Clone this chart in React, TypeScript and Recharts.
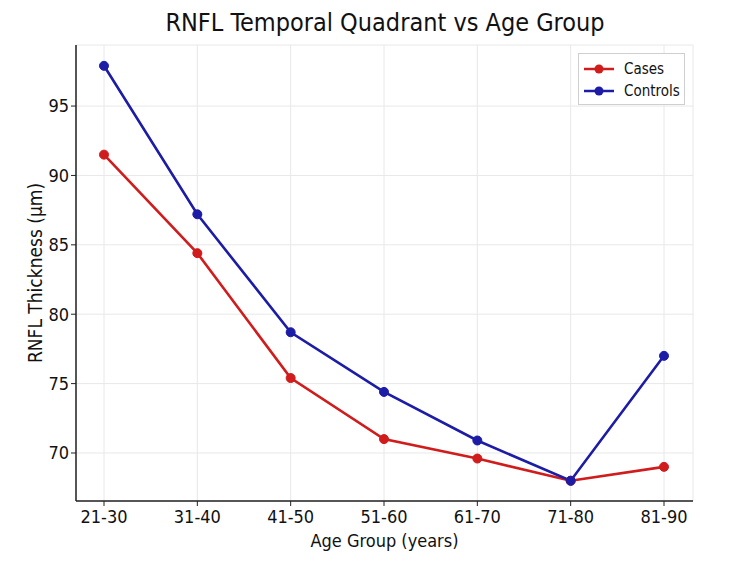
import React from 'react'
import { LineChart, Line, XAxis, YAxis, CartesianGrid } from 'recharts'

const ageGroups = ['21-30', '31-40', '41-50', '51-60', '61-70', '71-80', '81-90']
const cases = [91.5, 84.4, 75.4, 71.0, 69.6, 68.0, 69.0]
const controls = [97.9, 87.2, 78.7, 74.4, 70.9, 68.0, 77.0]
const yTicks = [70, 75, 80, 85, 90, 95]

const RED = '#d01c1c'
const BLUE = '#1c1ca6'
const FONT = '"DejaVu Sans Condensed", "DejaVu Sans", sans-serif'

const data = ageGroups.map((g, i) => ({ group: g, cases: cases[i], controls: controls[i] }))

const legendItems = [
  { label: 'Cases', color: RED },
  { label: 'Controls', color: BLUE },
]

function LegendBox() {
  return (
    <div style={{ position: 'absolute', left: 578, top: 53, width: 107, height: 52, boxSizing: 'border-box', border: '1px solid #cfcfcf', background: '#fff', padding: '4px 0 0 5px', fontFamily: FONT, fontSize: 15, color: '#111' }}>
      {legendItems.map(item => (
        <div key={item.label} style={{ display: 'flex', alignItems: 'center', height: 22 }}>
          <svg width={30} height={12} style={{ marginRight: 10 }}>
            <line x1={0} y1={6} x2={30} y2={6} stroke={item.color} strokeWidth={2.5} />
            <circle cx={15} cy={6} r={4.5} fill={item.color} />
          </svg>
          <span>{item.label}</span>
        </div>
      ))}
    </div>
  )
}

export default function App() {
  return (
    <div style={{ position: 'absolute', left: 0, top: 0, width: 750, height: 581, background: '#fff' }}>
      <div style={{ position: 'absolute', top: 8, left: 0, width: 770, textAlign: 'center', fontFamily: FONT, fontSize: 25, color: '#111' }}>
        RNFL Temporal Quadrant vs Age Group
      </div>
      <LineChart width={750} height={581} data={data} margin={{ top: 45, right: 57, left: 0, bottom: 0 }}>
        <CartesianGrid stroke="#e8e8e8" strokeWidth={1} />
        <XAxis
          dataKey="group"
          padding={{ left: 28, right: 29 }}
          height={80}
          axisLine={{ stroke: '#222', strokeWidth: 1.5 }}
          tickLine={{ stroke: '#222' }}
          tickSize={5}
          tickMargin={4}
          tick={{ fill: '#111', fontSize: 18, fontFamily: FONT }}
          label={{ value: 'Age Group (years)', position: 'insideTop', offset: 33, fill: '#111', fontSize: 18, fontFamily: FONT }}
        />
        <YAxis
          type="number"
          domain={[66.54, 99.4]}
          ticks={yTicks}
          allowDataOverflow
          width={76}
          axisLine={{ stroke: '#222', strokeWidth: 1.5 }}
          tickLine={{ stroke: '#222' }}
          tickSize={5}
          tick={{ fill: '#111', fontSize: 18, fontFamily: FONT }}
          label={{ value: 'RNFL Thickness (µm)', angle: -90, position: 'insideLeft', offset: 35, style: { textAnchor: 'middle' }, fill: '#111', fontSize: 19, fontFamily: FONT }}
        />
        <Line dataKey="cases" name="Cases" stroke={RED} strokeWidth={2.6} dot={{ r: 4.5, fill: RED, stroke: RED, strokeWidth: 1 }} activeDot={false} isAnimationActive={false} />
        <Line dataKey="controls" name="Controls" stroke={BLUE} strokeWidth={2.6} dot={{ r: 4.5, fill: BLUE, stroke: BLUE, strokeWidth: 1 }} activeDot={false} isAnimationActive={false} />
      </LineChart>
      <LegendBox />
    </div>
  )
}
